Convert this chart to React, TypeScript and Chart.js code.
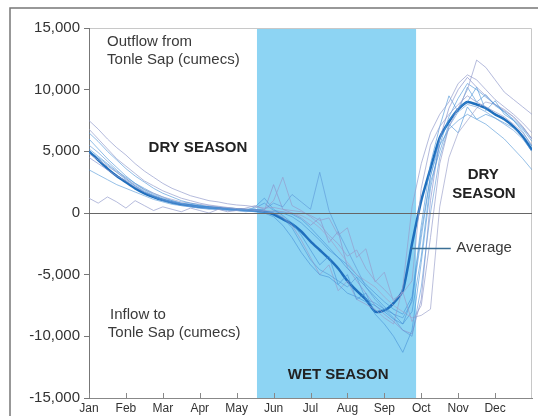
import React, { useEffect, useRef } from "react";
import { Chart, registerables } from "chart.js";

Chart.register(...registerables);

const monthLabels = ["Jan", "Feb", "Mar", "Apr", "May", "Jun", "Jul", "Aug", "Sep", "Oct", "Nov", "Dec"];
const yTicks = [-15000, -10000, -5000, 0, 5000, 10000, 15000];

// sample positions, in months from 1 Jan
const xPos = [
  0, 0.25, 0.5, 0.75, 1, 1.25, 1.5, 1.75, 2, 2.25, 2.5, 2.75, 3, 3.25, 3.5, 3.75,
  4, 4.25, 4.5, 4.75, 5, 5.25, 5.5, 5.75, 6, 6.25, 6.5, 6.75, 7, 7.25, 7.5, 7.75,
  8, 8.25, 8.5, 8.75, 9, 9.25, 9.5, 9.75, 10, 10.25, 10.5, 10.75, 11, 11.25, 11.5, 11.75, 12,
];

const averageFlow = [
  5000, 4300, 3600, 3000, 2500, 2000, 1600, 1300, 1050, 850, 700, 600, 500, 450, 400, 350,
  300, 250, 200, 100, -100, -500, -900, -1500, -2300, -3000, -3700, -4500, -5500, -6300, -7000, -8000,
  -7900, -7300, -6300, -2500, 1000, 3600, 6100, 7400, 8400, 9000, 8800, 8500, 8000, 7600, 7000, 6200, 5100,
];

const yearA = [
  7500, 6800, 6000, 5300, 4700, 4000, 3400, 2900, 2400, 2000, 1700, 1400, 1200, 1000, 900, 750,
  650, 600, 500, 400, 450, 300, 200, 100, -200, -600, -400, -1800, -1200, -3600, -2900, -5600,
  -4800, -7200, -6400, -8800, -7500, -2000, 4000, 7000, 8500, 10000, 12400, 11800, 10800, 9800, 9200, 8600, 8000,
];
const yearB = [
  6500, 5800, 5000, 4300, 3600, 3000, 2500, 2000, 1600, 1300, 1000, 800, 650, 500, 450, 350,
  300, 250, 300, 150, 100, 0, -300, -800, -1500, -2200, -3000, -3600, -4500, -5200, -6000, -6800,
  -7600, -8200, -9000, -7000, -1500, 3000, 6000, 7500, 8500, 9000, 10200, 8300, 9100, 8000, 7500, 6800, 5800,
];
const yearC = [
  1200, 800, 1300, 900, 400, 1000, 600, 200, 500, 300, 100, 400, 200, 0, 300, 100,
  200, 400, 600, 300, 1000, 2900, 600, 200, -300, -900, -1800, -2500, -3500, -3000, -4500, -5500,
  -6200, -7000, -6500, -5500, 2000, 5500, 7000, 8000, 8800, 9500, 9000, 8600, 8200, 7800, 7200, 6500, 5500,
];
const yearD = [
  6000, 5200, 4400, 3700, 3000, 2400, 1900, 1500, 1200, 1000, 800, 700, 550, 400, 350, 300,
  250, 200, 500, 1200, 300, -200, -800, -1800, -3000, -4200, -3500, -5800, -5000, -7000, -6500, -8200,
  -9000, -10000, -11300, -9500, -4000, 2000, 5500, 7800, 9300, 10500, 10000, 9400, 8800, 8200, 7500, 6600, 5400,
];
const yearE = [
  5500, 4900, 4200, 3500, 2800, 2200, 1700, 1300, 1000, 800, 600, 500, 400, 300, 300, 200,
  200, 100, 200, 300, 800, 500, 1500, 900, 300, 3300, 200, -1500, -3000, -4500, -6000, -7000,
  -7800, -8500, -9500, -10000, -6000, 0, 4500, 7000, 8200, 8800, 8600, 8200, 7700, 7200, 6700, 6000, 5000,
];
const yearF = [
  4800, 4300, 3800, 3300, 2800, 2300, 1900, 1600, 1300, 1100, 900, 800, 700, 600, 500, 400,
  350, 300, 250, 200, 150, 100, 0, -200, -600, -1200, -2000, -3000, -4000, -5000, -5500, -6000,
  -6800, -7500, -8000, -8500, -8300, -7800, 500, 4500, 6500, 7500, 8500, 9000, 8800, 8400, 7800, 7000, 6000,
];
const yearG = [
  5000, 4500, 3900, 3300, 2700, 2200, 1800, 1400, 1100, 900, 700, 600, 500, 400, 300, 300,
  200, 200, 100, 0, -300, -1000, -2000, -3200, -4200, -5000, -5200, -5800, -6500, -6800, -7200, -7500,
  -8000, -8600, -9000, -8000, -3500, 2500, 5000, 7200, 6500, 8600, 7600, 8000, 7700, 7300, 6900, 6300, 5400,
];
const yearH = [
  4500, 4000, 3500, 3000, 2600, 2100, 1700, 1400, 1100, 900, 750, 600, 500, 450, 400, 300,
  250, 200, 300, 200, 2300, 300, 0, -400, -1000, -400, -2400, -1500, -4400, -5500, -6500, -7500,
  -8200, -8800, -9500, -9800, -7000, 1000, 6000, 8500, 10000, 11000, 10200, 9500, 8800, 8300, 7800, 7000, 6000,
];
const yearI = [
  3500, 3100, 2700, 2300, 2000, 1700, 1400, 1100, 900, 700, 600, 500, 400, 350, 300, 250,
  200, 150, 100, 50, 0, -400, -1200, -2500, -3800, -4600, -5000, -5500, -6000, -5200, -7000, -7300,
  -7800, -8200, -8500, -7200, -2000, 3000, 5500, 6800, 7500, 8000, 7600, 7200, 6600, 6000, 5200, 4400, 3500,
];
const yearJ = [
  6800, 6000, 5200, 4400, 3800, 3200, 2600, 2200, 1800, 1500, 1200, 1000, 800, 650, 550, 450,
  350, 300, 200, 100, 0, -300, -1000, -2200, -3600, -5000, -4200, -6300, -5500, -7000, -7400, -7800,
  -8500, -9000, -6000, 500, 4000, 6500, 8000, 9000, 10500, 11200, 10800, 10000, 9200, 8600, 8000, 7300, 6500,
];
const yearK = [
  5200, 4600, 4000, 3400, 2900, 2400, 2000, 1600, 1300, 1000, 800, 700, 600, 500, 400, 350,
  300, 250, 400, 800, 200, 100, -100, -500, -1200, -2000, -2800, -3600, -4200, -5000, -5800, -6500,
  -7200, -7800, -8200, -6800, -1000, 4000, 7000, 9500, 8200, 10200, 9000, 9600, 8700, 8200, 7600, 6900, 6000,
];

const yearSeries = [yearA, yearB, yearC, yearD, yearE, yearF, yearG, yearH, yearI, yearJ, yearK];
const yearColors = [
  "rgba(150,158,205,0.7)",
  "rgba(70,145,215,0.6)",
  "rgba(150,158,205,0.7)",
  "rgba(70,145,215,0.6)",
  "rgba(90,150,215,0.6)",
  "rgba(160,165,205,0.7)",
  "rgba(70,145,215,0.6)",
  "rgba(140,150,205,0.7)",
  "rgba(80,150,215,0.6)",
  "rgba(150,158,205,0.7)",
  "rgba(70,145,215,0.6)",
];

// wet season band (months from 1 Jan)
const wetStart = 4.55;
const wetEnd = 8.86;

const FONT = "'Liberation Sans', Arial, sans-serif";

const decorPlugin = {
  id: "decor",
  beforeDraw(chart: any) {
    const { ctx, chartArea, scales } = chart;
    const x = scales.x;
    ctx.save();
    ctx.strokeStyle = "#777";
    ctx.lineWidth = 1.5;
    ctx.beginPath();
    ctx.moveTo(10, 416);
    ctx.lineTo(10, 8);
    ctx.lineTo(538, 8);
    ctx.stroke();
    ctx.fillStyle = "#8dd4f3";
    const x0 = x.getPixelForValue(wetStart);
    const x1 = x.getPixelForValue(wetEnd);
    ctx.fillRect(x0, chartArea.top, x1 - x0, chartArea.bottom - chartArea.top);
    ctx.strokeStyle = "#c8c8c8";
    ctx.lineWidth = 1;
    ctx.beginPath();
    ctx.moveTo(chartArea.left, chartArea.top + 0.5);
    ctx.lineTo(chartArea.right - 0.5, chartArea.top + 0.5);
    ctx.lineTo(chartArea.right - 0.5, chartArea.bottom);
    ctx.stroke();
    ctx.restore();
  },
  afterDatasetsDraw(chart: any) {
    const { ctx, chartArea, scales } = chart;
    const x = scales.x;
    const y = scales.y;
    ctx.save();
    const y0 = Math.round(y.getPixelForValue(0)) + 0.5;
    ctx.strokeStyle = "#666";
    ctx.lineWidth = 1;
    ctx.beginPath();
    ctx.moveTo(chartArea.left, y0);
    ctx.lineTo(chartArea.right, y0);
    ctx.stroke();
    ctx.strokeStyle = "#888";
    for (let m = 0; m < monthLabels.length; m++) {
      const px = Math.round(x.getPixelForValue(m)) + 0.5;
      ctx.beginPath();
      ctx.moveTo(px, chartArea.bottom);
      ctx.lineTo(px, chartArea.bottom - 5);
      ctx.stroke();
    }
    ctx.strokeStyle = "#3b6f95";
    ctx.lineWidth = 1.5;
    const ly = Math.round(y.getPixelForValue(-2840)) + 0.5;
    ctx.beginPath();
    ctx.moveTo(x.getPixelForValue(8.73), ly);
    ctx.lineTo(x.getPixelForValue(9.8), ly);
    ctx.stroke();

    ctx.textBaseline = "middle";
    const txt = (s: string, mx: number, vy: number, align: CanvasTextAlign, bold: boolean) => {
      ctx.font = (bold ? "bold " : "") + "15px " + FONT;
      ctx.fillStyle = bold ? "#222" : "#3a3a3a";
      ctx.textAlign = align;
      ctx.fillText(s, x.getPixelForValue(mx), y.getPixelForValue(vy));
    };
    txt("Outflow from", 0.49, 13870, "left", false);
    txt("Tonle Sap (cumecs)", 0.49, 12410, "left", false);
    txt("DRY SEASON", 2.95, 5270, "center", true);
    txt("Inflow to", 0.57, -8270, "left", false);
    txt("Tonle Sap (cumecs)", 0.51, -9730, "left", false);
    txt("WET SEASON", 6.75, -13140, "center", true);
    txt("DRY", 10.68, 3080, "center", true);
    txt("SEASON", 10.7, 1540, "center", true);
    txt("Average", 9.95, -2840, "left", false);
    ctx.restore();
  },
};

export default function App() {
  const ref = useRef<HTMLCanvasElement | null>(null);
  useEffect(() => {
    if (!ref.current) return;
    const datasets: any[] = yearSeries.map((s, i) => ({
      data: s.map((v, k) => ({ x: xPos[k], y: v })),
      borderColor: yearColors[i],
      borderWidth: 1,
      pointRadius: 0,
      tension: 0,
    }));
    datasets.push({
      data: averageFlow.map((v, k) => ({ x: xPos[k], y: v })),
      borderColor: "#1f6fbd",
      borderWidth: 2.5,
      pointRadius: 0,
      tension: 0.2,
    });
    const chart = new Chart(ref.current, {
      type: "line",
      data: { datasets },
      options: {
        responsive: false,
        animation: false,
        layout: { padding: { top: 28, right: 6, left: 0, bottom: 0 } },
        plugins: { legend: { display: false }, tooltip: { enabled: false } },
        scales: {
          x: {
            type: "linear",
            min: 0,
            max: 12,
            afterBuildTicks: (s: any) => {
              s.ticks = monthLabels.map((_, i) => ({ value: i }));
            },
            afterFit: (s: any) => {
              s.height = 18;
            },
            ticks: {
              autoSkip: false,
              maxRotation: 0,
              padding: 3,
              color: "#333",
              font: { family: FONT, size: 12 },
              callback: (v: any) => monthLabels[v] ?? "",
            },
            grid: { display: false, drawTicks: false },
            border: { display: true, color: "#888", width: 1 },
          },
          y: {
            min: -15000,
            max: 15000,
            afterBuildTicks: (s: any) => {
              s.ticks = yTicks.map((v) => ({ value: v }));
            },
            afterFit: (s: any) => {
              s.width = 89;
            },
            ticks: {
              padding: 4,
              color: "#333",
              font: { family: FONT, size: 15 },
              callback: (v: any) => Number(v).toLocaleString("en-US"),
            },
            grid: {
              color: "rgba(0,0,0,0)",
              drawTicks: true,
              tickLength: 5,
              tickColor: "#777",
            },
            border: { display: true, color: "#777", width: 1 },
          },
        },
      },
      plugins: [decorPlugin],
    });
    return () => chart.destroy();
  }, []);
  return (
    <div style={{ position: "fixed", left: 0, top: 0, width: 538, height: 416, background: "#fff" }}>
      <canvas ref={ref} width={538} height={416} style={{ display: "block" }} />
    </div>
  );
}
